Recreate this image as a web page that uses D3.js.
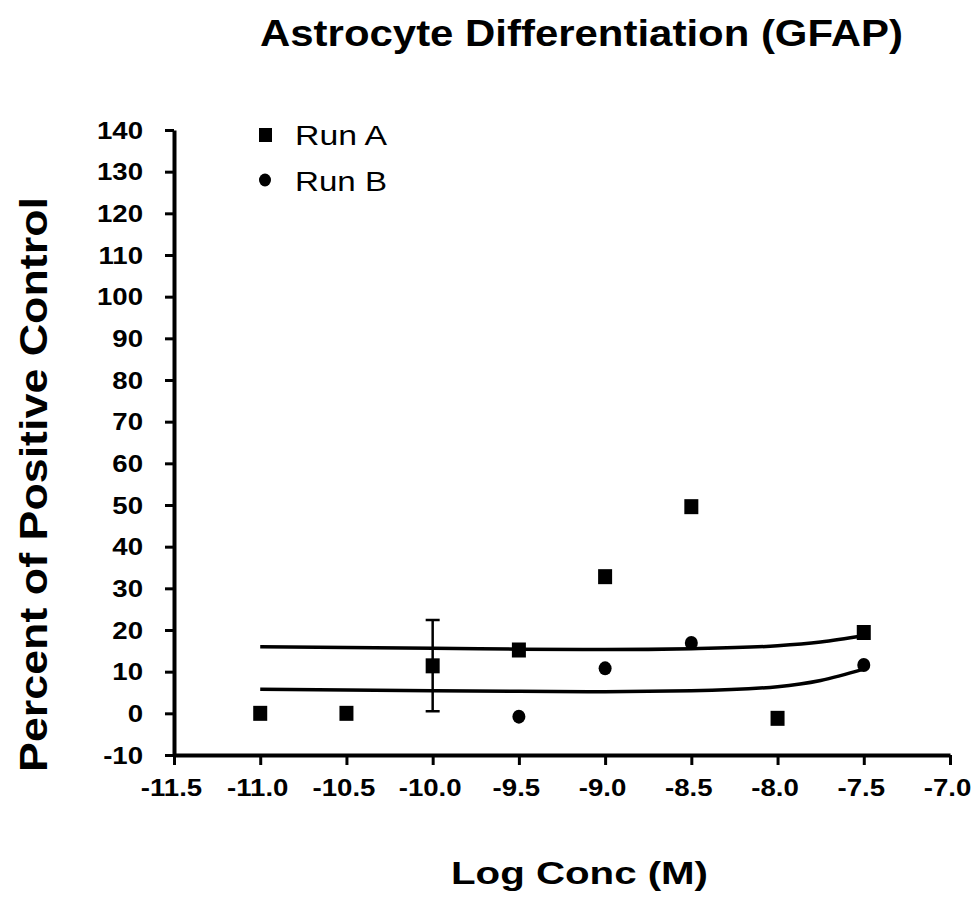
<!DOCTYPE html>
<html>
<head>
<meta charset="utf-8">
<script src="https://cdn.jsdelivr.net/npm/d3@7"></script>
<style>
  body { margin: 0; background: #fff; }
  svg text { font-family: "Liberation Sans", Arial, sans-serif; fill: #000; }
</style>
</head>
<body>
<div id="chart"></div>
<script>
// data
const xTicks = [-11.5, -11.0, -10.5, -10.0, -9.5, -9.0, -8.5, -8.0, -7.5, -7.0];
const yTicks = [-10, 0, 10, 20, 30, 40, 50, 60, 70, 80, 90, 100, 110, 120, 130, 140];

const runA = [
  {x: -11.0, y: 0}, {x: -10.5, y: 0}, {x: -10.0, y: 11.4}, {x: -9.5, y: 15.2},
  {x: -9.0, y: 32.8}, {x: -8.5, y: 49.6}, {x: -8.0, y: -1.2}, {x: -7.5, y: 19.4}
];
const runB = [
  {x: -9.5, y: -0.8}, {x: -9.0, y: 10.8}, {x: -8.5, y: 16.9}, {x: -7.5, y: 11.6}
];
const errorBars = [{x: -10.0, lo: 0.5, hi: 22.4}];

// fitted curves
const fitA = [
  [-11.0, 16.0], [-10.5, 15.8], [-10.0, 15.6], [-9.5, 15.4], [-9.0, 15.3],
  [-8.5, 15.5], [-8.0, 16.2], [-7.75, 17.1], [-7.5, 18.6]
];
const fitB = [
  [-11.0, 5.8], [-10.5, 5.6], [-10.0, 5.4], [-9.5, 5.3], [-9.0, 5.2],
  [-8.5, 5.4], [-8.0, 6.4], [-7.75, 7.9], [-7.5, 10.6]
];

const width = 974, height = 900;
const stretch = 1.2; // the scan is wider than it is tall
const svg = d3.select('#chart').append('svg').attr('width', width).attr('height', height);

const x = d3.scaleLinear().domain([-11.5, -7.0]).range([174, 950]);
const y = d3.scaleLinear().domain([-10, 140]).range([755, 130]);

// axes
const xAxis = svg.append('g').attr('transform', `translate(0,${y(-10)})`)
  .call(d3.axisBottom(x).tickValues(xTicks).tickFormat(d => d.toFixed(1)).tickSize(10).tickSizeOuter(0));
const yAxis = svg.append('g').attr('transform', `translate(${x(-11.5)},0)`)
  .call(d3.axisLeft(y).tickValues(yTicks).tickFormat(d => String(d)).tickSize(9).tickSizeOuter(0));

[xAxis, yAxis].forEach(a => {
  a.select('.domain').attr('stroke', '#000').attr('stroke-width', 4);
  a.selectAll('.tick line').attr('stroke', '#000').attr('stroke-width', 3);
  a.selectAll('.tick text').attr('font-size', 23).attr('font-weight', 'bold')
    .style('font-family', '"Liberation Sans", Arial, sans-serif')
    .attr('transform', `scale(${stretch},1)`);
});
xAxis.selectAll('.tick text').attr('dy', null).attr('y', 41).attr('x', -3 / stretch);
yAxis.selectAll('.tick text').attr('dy', null).attr('y', 8).attr('x', -31 / stretch);

// fit lines
const line = d3.line().x(d => x(d[0])).y(d => y(d[1])).curve(d3.curveMonotoneX);
[fitA, fitB].forEach(f => {
  svg.append('path').datum(f).attr('d', line)
    .attr('fill', 'none').attr('stroke', '#000').attr('stroke-width', 3.5);
});

// error bars
const eb = svg.append('g').attr('stroke', '#000').attr('stroke-width', 2.5);
errorBars.forEach(d => {
  eb.append('line').attr('x1', x(d.x)).attr('x2', x(d.x)).attr('y1', y(d.lo)).attr('y2', y(d.hi));
  eb.append('line').attr('x1', x(d.x) - 7).attr('x2', x(d.x) + 7).attr('y1', y(d.lo)).attr('y2', y(d.lo));
  eb.append('line').attr('x1', x(d.x) - 7).attr('x2', x(d.x) + 7).attr('y1', y(d.hi)).attr('y2', y(d.hi));
});

// markers
const sqW = 14, sqH = 15;
svg.append('g').selectAll('rect').data(runA).join('rect')
  .attr('x', d => x(d.x) - sqW / 2).attr('y', d => y(d.y) - sqH / 2)
  .attr('width', sqW).attr('height', sqH).attr('fill', '#000');
svg.append('g').selectAll('ellipse').data(runB).join('ellipse')
  .attr('cx', d => x(d.x)).attr('cy', d => y(d.y)).attr('rx', 6.5).attr('ry', 7).attr('fill', '#000');

// legend
const lg = svg.append('g');
lg.append('rect').attr('x', 259).attr('y', 128).attr('width', 13).attr('height', 14).attr('fill', '#000');
lg.append('ellipse').attr('cx', 265).attr('cy', 180).attr('rx', 6).attr('ry', 6.5).attr('fill', '#000');
lg.append('text').attr('x', 295).attr('y', 145).attr('font-size', 27)
  .attr('textLength', 92).attr('lengthAdjust', 'spacingAndGlyphs').text('Run A');
lg.append('text').attr('x', 295).attr('y', 191).attr('font-size', 27)
  .attr('textLength', 92).attr('lengthAdjust', 'spacingAndGlyphs').text('Run B');

// titles
svg.append('text').attr('x', 260).attr('y', 46)
  .attr('font-size', 37).attr('font-weight', 'bold')
  .attr('textLength', 643).attr('lengthAdjust', 'spacingAndGlyphs')
  .text('Astrocyte Differentiation (GFAP)');
svg.append('text').attr('x', 451).attr('y', 884)
  .attr('font-size', 32).attr('font-weight', 'bold')
  .attr('textLength', 257).attr('lengthAdjust', 'spacingAndGlyphs')
  .text('Log Conc (M)');
svg.append('text').attr('transform', 'translate(47,772) rotate(-90)')
  .attr('font-size', 38).attr('font-weight', 'bold')
  .attr('textLength', 575).attr('lengthAdjust', 'spacingAndGlyphs')
  .text('Percent of Positive Control');
</script>
</body>
</html>
